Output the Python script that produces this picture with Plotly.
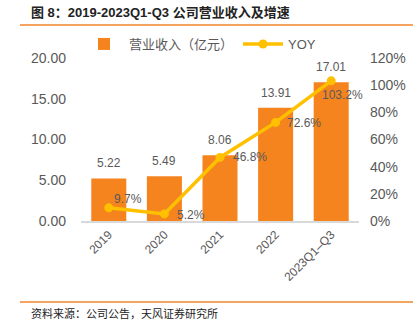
import plotly.graph_objects as go

categories = ["2019", "2020", "2021", "2022", "2023Q1–Q3"]
revenue = [5.22, 5.49, 8.06, 13.91, 17.01]
yoy = [9.7, 5.2, 46.8, 72.6, 103.2]
left_ticks = [0, 5, 10, 15, 20]
right_ticks = [0, 20, 40, 60, 80, 100, 120]

BAR = "#F5841F"
LINE = "#FFC000"
GRAY = "#595959"
FONT = "Liberation Sans, Noto Sans CJK SC, sans-serif"

W, H = 419, 324
L, R, T, B = 81, 359, 58, 221  # plot area in pixels


def px(X):
    return (X - L) / (R - L)


def py(Y):
    return (B - Y) / (B - T)


idx = list(range(len(categories)))

fig = go.Figure()
fig.add_trace(go.Bar(x=idx, y=revenue, name="营业收入（亿元）",
                     marker=dict(color=BAR, line=dict(width=0)), yaxis="y"))
fig.add_trace(go.Scatter(x=idx, y=yoy, name="YOY", mode="lines+markers",
                         line=dict(color=LINE, width=3.5),
                         marker=dict(color=LINE, size=9), yaxis="y2"))

# bar value labels
for i, v in zip(idx, revenue):
    fig.add_annotation(x=i, y=v, xref="x", yref="y", text=f"{v:.2f}",
                       showarrow=False, yshift=15, yanchor="middle",
                       font=dict(size=12, color=GRAY, family=FONT))

# yoy labels with offsets
offsets = [(19, 9), (27, -1), (30, 0), (28, -1), (11, -14)]
for i, v, (dx, dy) in zip(idx, yoy, offsets):
    fig.add_annotation(x=i, y=v, xref="x", yref="y2", text=f"{v:.1f}%",
                       showarrow=False, xshift=dx, yshift=dy, yanchor="middle",
                       font=dict(size=12, color=GRAY, family=FONT))

fig.add_annotation(x=px(29), y=py(12), xref="paper", yref="paper",
                   text="<b>图 8：2019-2023Q1-Q3 公司营业收入及增速</b>", showarrow=False,
                   xanchor="left", yanchor="middle",
                   font=dict(size=13, color="#222222", family=FONT))
fig.add_annotation(x=px(29), y=py(313), xref="paper", yref="paper",
                   text="资料来源：公司公告，天风证券研究所", showarrow=False,
                   xanchor="left", yanchor="middle",
                   font=dict(size=11, color="#222222", family=FONT))
for yy in (25, 302):
    fig.add_shape(type="line", xref="paper", yref="paper", x0=px(20), x1=px(413),
                  y0=py(yy), y1=py(yy), line=dict(color="#F4A460", width=2))

fig.update_layout(
    width=W, height=H,
    margin=dict(l=L, r=W - R, t=T, b=H - B, pad=0, autoexpand=False),
    paper_bgcolor="white", plot_bgcolor="white",
    font=dict(family=FONT, color=GRAY, size=13),
    bargap=0.37,
    showlegend=True,
    legend=dict(orientation="h", x=px(200), xanchor="center", y=1 - 44 / H, yanchor="middle",
                yref="container", font=dict(size=13, color=GRAY), itemwidth=40,
                bgcolor="rgba(0,0,0,0)"),
    xaxis=dict(range=[-0.5, 4.5], tickvals=idx, ticktext=categories,
               showline=True, linecolor="#D9D9D9", linewidth=2, tickangle=-45,
               showgrid=False, zeroline=False, ticks="", tickfont=dict(size=12, color=GRAY)),
    yaxis=dict(range=[0, 20], tickvals=left_ticks,
               ticktext=[f"{v:.2f}" for v in left_ticks], showgrid=False,
               zeroline=False, showline=False, tickfont=dict(size=14, color=GRAY),
               ticklabelstandoff=14),
    yaxis2=dict(range=[0, 120], tickvals=right_ticks,
                ticktext=[f"{v}%" for v in right_ticks], overlaying="y",
                side="right", showgrid=False, zeroline=False, showline=False,
                tickfont=dict(size=14, color=GRAY), ticklabelstandoff=10),
)

fig.write_html("out.html")
